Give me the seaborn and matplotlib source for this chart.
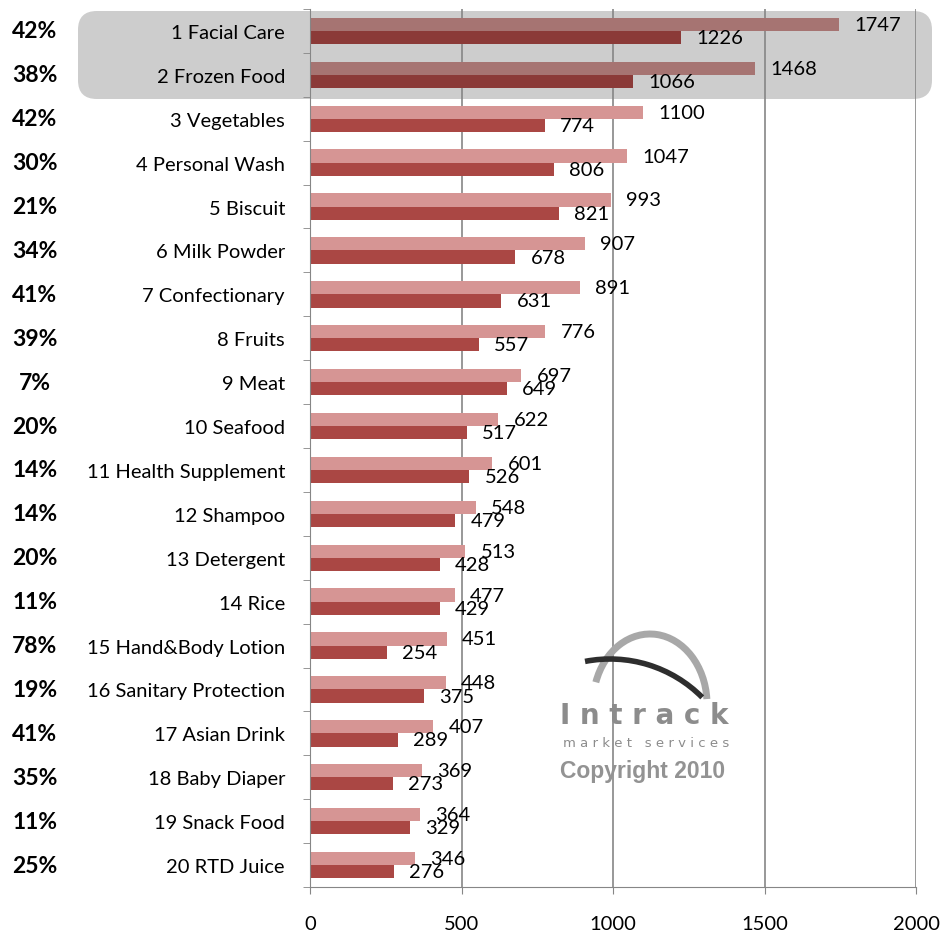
import matplotlib
matplotlib.use("Agg")
import matplotlib.pyplot as plt
from matplotlib.patches import FancyBboxPatch, Arc
import pandas as pd
import seaborn as sns

# Chart data
categories = ["1 Facial Care", "2 Frozen Food", "3 Vegetables", "4 Personal Wash",
              "5 Biscuit", "6 Milk Powder", "7 Confectionary", "8 Fruits", "9 Meat",
              "10 Seafood", "11 Health Supplement", "12 Shampoo", "13 Detergent",
              "14 Rice", "15 Hand&Body Lotion", "16 Sanitary Protection",
              "17 Asian Drink", "18 Baby Diaper", "19 Snack Food", "20 RTD Juice"]
current = [1747, 1468, 1100, 1047, 993, 907, 891, 776, 697, 622,
           601, 548, 513, 477, 451, 448, 407, 369, 364, 346]
previous = [1226, 1066, 774, 806, 821, 678, 631, 557, 649, 517,
            526, 479, 428, 429, 254, 375, 289, 273, 329, 276]
growth = ["42%", "38%", "42%", "30%", "21%", "34%", "41%", "39%", "7%", "20%",
          "14%", "14%", "20%", "11%", "78%", "19%", "41%", "35%", "11%", "25%"]
highlighted = 2  # top categories shown in the grey box
xticks = [0, 500, 1000, 1500, 2000]

df = pd.DataFrame({
    "category": categories * 2,
    "value": current + previous,
    "series": ["current"] * len(categories) + ["previous"] * len(categories),
})

sns.set_style("white")
plt.rcParams["font.family"] = ["Lato", "DejaVu Sans"]
plt.rcParams["text.color"] = "black"
plt.rcParams["xtick.labelcolor"] = "black"
plt.rcParams["ytick.labelcolor"] = "black"

fig = plt.figure(figsize=(9.43, 9.37), dpi=100)
ax = fig.add_axes([310 / 943, 1 - 888 / 937, 606 / 943, 878 / 937])
ax.set_facecolor("none")

palette = {"current": "#D69594", "previous": "#AA4744"}
sns.barplot(data=df, y="category", x="value", hue="series", order=categories,
            hue_order=["current", "previous"], palette=palette, width=0.6,
            saturation=1, linewidth=0, legend=False, ax=ax)

# darker tones for the highlighted rows (under the grey box)
dark_tones = ["#A67472", "#8B3A38"]
for cont, tone in zip(ax.containers, dark_tones):
    for bar in list(cont)[:highlighted]:
        bar.set_facecolor(tone)
    ax.bar_label(cont, fmt="%d", padding=11, fontsize=14.5, color="black")

# grey highlight box behind top rows
box = FancyBboxPatch((78 / 943, 1 - 100 / 937), (932 - 78) / 943, 88 / 937,
                     boxstyle="round,pad=0,rounding_size=0.02",
                     transform=fig.transFigure, facecolor="#CDCDCD",
                     edgecolor="none", zorder=-1)
fig.patches.append(box)

ax.set_xlim(0, 2000)
ax.set_xticks(xticks)
ax.set_xlabel("")
ax.set_ylabel("")
ax.grid(axis="x", color="#868686", linewidth=1.2)
ax.set_axisbelow(True)
for s in ["top", "right"]:
    ax.spines[s].set_visible(False)
ax.spines["left"].set_color("#868686")
ax.spines["bottom"].set_color("#868686")
ax.tick_params(axis="x", length=5, direction="out", color="#868686",
               pad=15, labelsize=14.5, bottom=True)
ax.tick_params(axis="y", which="major", length=0, pad=18, labelsize=14.5)
ax.set_yticks([i - 0.5 for i in range(len(categories) + 1)], minor=True)
ax.tick_params(axis="y", which="minor", length=5, direction="out",
               color="#868686", left=True)

# growth percentages at far left
for i, g in enumerate(growth):
    ax.text(-0.454, i, g, transform=ax.get_yaxis_transform(), ha="center",
            va="center", fontsize=16.5, fontweight="bold")

# watermark logo
wm = "#8C8C8C"
fig.patches.append(Arc((650 / 943, 1 - 705 / 937), 114 / 943, 140 / 937,
                       theta1=5, theta2=158, color="#A8A8A8", lw=5,
                       transform=fig.transFigure))
fig.patches.append(Arc((610 / 943, 1 - 790 / 937), 260 / 943, 260 / 937,
                       theta1=45, theta2=101, color="#2E2E2E", lw=4,
                       transform=fig.transFigure))
fig.text(644 / 943, 1 - 716 / 937, "I n t r a c k", ha="center", va="center",
         fontsize=20, fontweight="bold", color=wm, family="DejaVu Sans")
fig.text(646 / 943, 1 - 744 / 937, "m a r k e t   s e r v i c e s",
         ha="center", va="center", fontsize=9.5, color=wm, family="DejaVu Sans")
fig.text(643 / 943, 1 - 772 / 937, "Copyright 2010", ha="center", va="center",
         fontsize=16.5, fontweight="bold", color="#939393",
         family="Liberation Sans")

fig.savefig("out.png", dpi=100)
